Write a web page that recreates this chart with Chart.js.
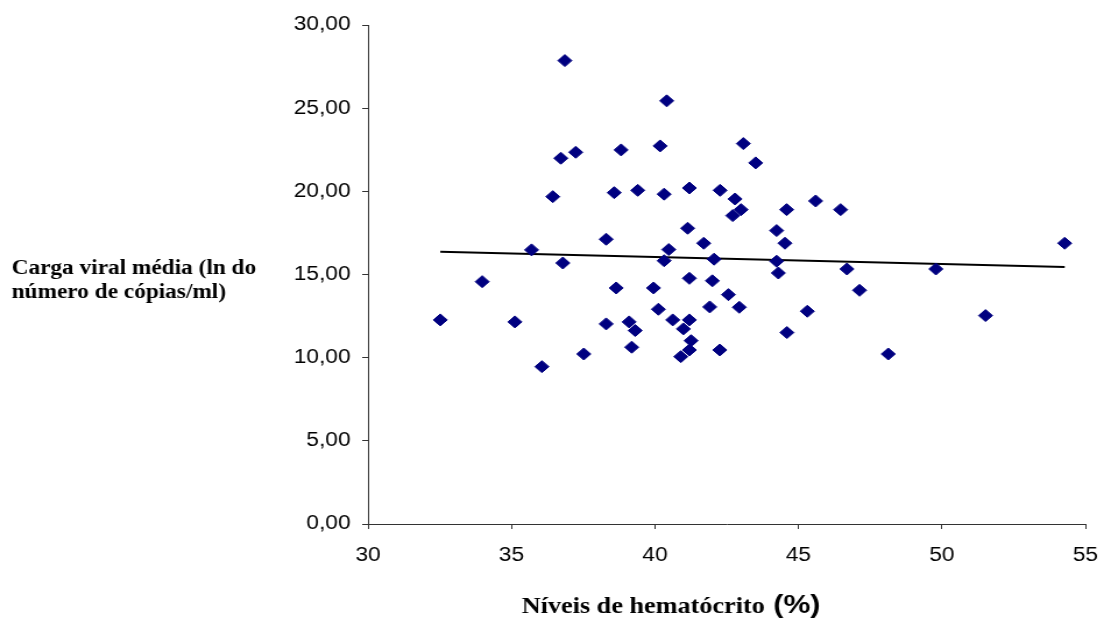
<!DOCTYPE html>
<html>
<head>
<meta charset="utf-8">
<script src="https://cdn.jsdelivr.net/npm/chart.js@4"></script>
<style>
  body { margin: 0; background: #fff; }
  #hctChart { display: block; }
</style>
</head>
<body>
<!-- drawn at 948 wide and shown at 1104: the reference is stretched horizontally -->
<canvas id="hctChart" width="948" height="623" style="width:1104px;height:623px"></canvas>
<script>
// hematocrit (%) per patient
const hematocrit = [
    32.52, 33.98, 35.12, 35.70, 36.06, 36.44, 36.72, 36.79, 36.86, 37.24,
    37.52, 38.30, 38.30, 38.58, 38.65, 38.82, 39.10, 39.19, 39.31, 39.40,
    39.95, 40.12, 40.18, 40.32, 40.32, 40.41, 40.48, 40.62, 40.90, 40.99,
    41.14, 41.20, 41.20, 41.20, 41.26, 41.20, 41.70, 41.91, 42.00, 42.06,
    42.26, 42.27, 42.56, 42.71, 42.79, 43.00, 42.94, 43.08, 43.51, 44.24,
    44.24, 44.30, 44.53, 44.59, 44.60, 45.31, 45.60, 46.47, 46.69, 47.13,
    48.13, 49.79, 51.52, 54.28
];
// mean viral load (ln copies/ml), same order
const viralLoad = [
    12.27, 14.57, 12.15, 16.48, 9.46, 19.68, 21.99, 15.69, 27.86, 22.35,
    10.22, 17.12, 12.03, 19.92, 14.19, 22.49, 12.15, 10.63, 11.63, 20.06,
    14.19, 12.91, 22.73, 19.83, 15.83, 25.44, 16.50, 12.27, 10.06, 11.73,
    17.78, 20.20, 14.77, 12.27, 11.02, 10.46, 16.88, 13.05, 14.62, 15.92,
    10.46, 20.06, 13.79, 18.54, 19.54, 18.90, 13.03, 22.87, 21.71, 17.64,
    15.80, 15.09, 16.88, 18.90, 11.51, 12.79, 19.42, 18.90, 15.33, 14.05,
    10.22, 15.33, 12.53, 16.88
];
// linear trend line, read at its two ends
const trendX = [32.52, 54.28];
const trendY = [16.37, 15.45];

const xTicks = [30, 35, 40, 45, 50, 55];
const yTicks = [0, 5, 10, 15, 20, 25, 30];

const points = hematocrit.map((x, i) => ({ x: x, y: viralLoad[i] }));
const trend = trendX.map((x, i) => ({ x: x, y: trendY[i] }));

const titles = {
    id: 'titles',
    afterDraw(chart) {
        const c = chart.ctx;
        c.save();
        c.fillStyle = '#000';
        c.textAlign = 'left';
        c.textBaseline = 'alphabetic';
        c.font = 'bold 20px "Liberation Serif"';
        c.fillText('Carga viral média (ln do', 10, 274);
        c.fillText('número de cópias/ml)', 10, 298);
        c.font = 'bold 22.5px "Liberation Serif"';
        c.fillText('Níveis de hematócrito', 448, 613);
        c.font = 'bold 26px "Liberation Sans"';
        c.fillText('(%)', 664, 613);
        c.restore();
    }
};

const ctx = document.getElementById('hctChart').getContext('2d');
const hctChart = new Chart(ctx, {
    type: 'scatter',
    data: {
        datasets: [{
            label: 'Carga viral',
            data: points,
            pointStyle: 'rectRot',
            pointRadius: 6,
            pointHoverRadius: 6,
            backgroundColor: '#000080',
            borderColor: '#000080',
            borderWidth: 1
        }, {
            label: 'Tendência',
            type: 'line',
            data: trend,
            borderColor: '#000',
            borderWidth: 2,
            pointRadius: 0,
            fill: false
        }]
    },
    options: {
        responsive: false,
        animation: false,
        devicePixelRatio: 1,
        layout: { padding: { left: 0, top: 25, right: 16, bottom: 0 } },
        plugins: {
            legend: { display: false },
            tooltip: { enabled: false }
        },
        scales: {
            x: {
                type: 'linear',
                min: 30,
                max: 55,
                afterBuildTicks: (scale) => { scale.ticks = xTicks.map(v => ({ value: v })); },
                afterFit: (scale) => {
                    scale.height = 99;
                    // keep the plot edge fixed, the last label fits in the right padding
                    scale.paddingLeft = 0;
                    scale.paddingRight = 0;
                },
                border: { color: '#333', width: 1 },
                grid: { drawOnChartArea: false, drawTicks: true, tickLength: 5, color: '#333' },
                ticks: {
                    color: '#000',
                    padding: 15,
                    maxRotation: 0,
                    font: { family: '"Liberation Sans"', size: 19.5 }
                }
            },
            y: {
                min: 0,
                max: 30,
                afterBuildTicks: (scale) => { scale.ticks = yTicks.map(v => ({ value: v })); },
                afterFit: (scale) => { scale.width = 316; },
                border: { color: '#333', width: 1 },
                grid: { drawOnChartArea: false, drawTicks: true, tickLength: 5, color: '#333' },
                ticks: {
                    color: '#000',
                    padding: 10,
                    font: { family: '"Liberation Sans"', size: 19.5 },
                    callback: (v) => v.toFixed(2).replace('.', ',')
                }
            }
        }
    },
    plugins: [titles]
});
</script>
</body>
</html>
